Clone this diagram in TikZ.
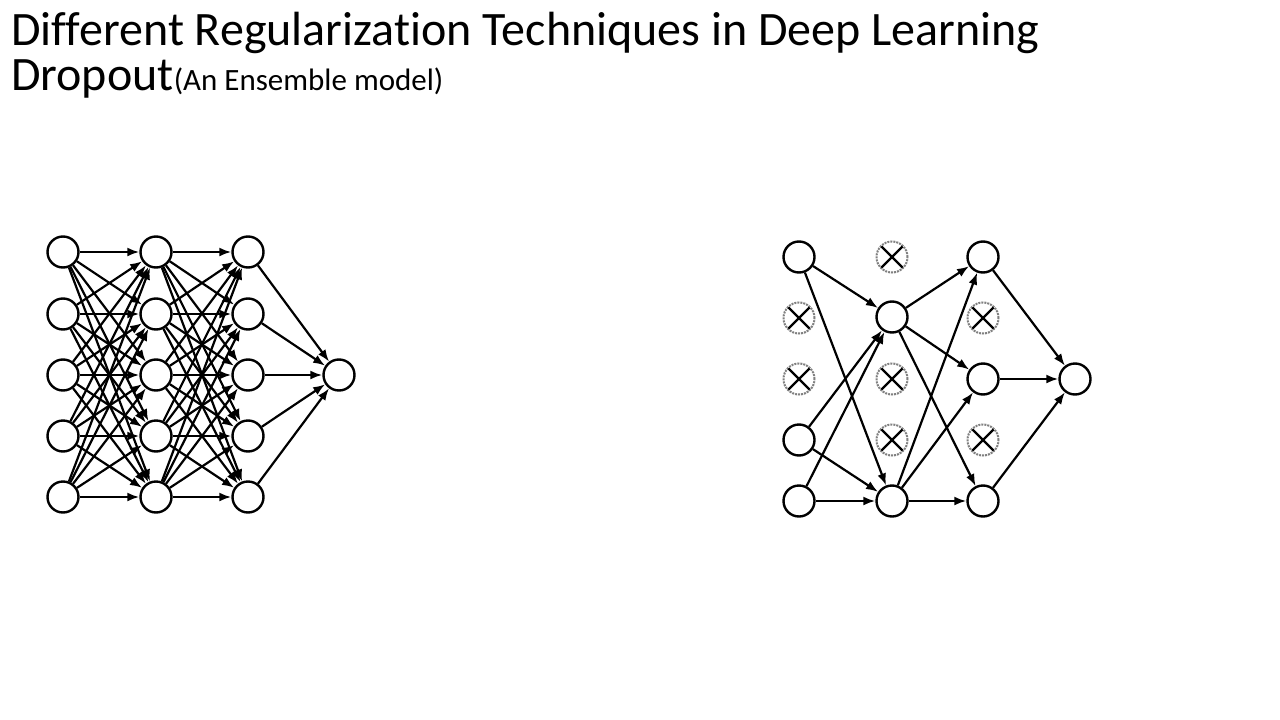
\documentclass[tikz,border=0pt]{standalone}
\usepackage{fontspec}
\setmainfont[Ligatures=NoCommon]{Carlito}
\usetikzlibrary{arrows.meta}
\begin{document}
\begin{tikzpicture}[x=1pt,y=-1pt,
  neuron/.style={circle,draw,line width=2.4pt,minimum size=31pt,inner sep=0pt,fill=white},
  dropped/.style={circle,draw=black!50,densely dotted,line width=2pt,minimum size=31pt,inner sep=0pt},
  xmark/.style={line width=2.4pt,shorten >=1.5pt,shorten <=1.5pt},
  conn/.style={-{Latex[length=12pt,width=9pt]},line width=2.2pt},
  big/.style={font=\fontsize{48}{48}\selectfont}]
\useasboundingbox (0,0) rectangle (1280,720);
\fill[white] (0,0) rectangle (1280,720);
% titles
\node[anchor=base west,inner sep=0pt,big] (t1) at (11,45) {Different Regularization Techniques in Deep Learning};
\node[anchor=base west,inner sep=0pt] (t2) at (11,90) {{\fontsize{48}{48}\selectfont Dropout}{\fontsize{31}{31}\selectfont (An Ensemble model)}};
% left: full network
\foreach \i/\y in {1/252,2/314,3/375,4/436,5/497}{
  \node[neuron] (a\i) at (63,\y) {};
  \node[neuron] (b\i) at (156,\y) {};
  \node[neuron] (c\i) at (248,\y) {};
}
\node[neuron] (ao) at (339,375) {};
\foreach \i in {1,...,5}{
  \foreach \j in {1,...,5}{
    \draw[conn] (a\i) -- (b\j);
    \draw[conn] (b\i) -- (c\j);
  }
  \draw[conn] (c\i) -- (ao);
}
% right: thinned network
\node[neuron] (p1) at (799,257) {};
\node[dropped] (p2) at (799,318) {};
\node[dropped] (p3) at (799,379) {};
\node[neuron] (p4) at (799,440) {};
\node[neuron] (p5) at (799,501) {};
\node[dropped] (q1) at (892,257) {};
\node[neuron] (q2) at (892,317) {};
\node[dropped] (q3) at (892,379) {};
\node[dropped] (q4) at (892,440) {};
\node[neuron] (q5) at (892,501) {};
\node[neuron] (r1) at (983,257) {};
\node[dropped] (r2) at (983,318) {};
\node[neuron] (r3) at (983,379) {};
\node[dropped] (r4) at (983,440) {};
\node[neuron] (r5) at (983,501) {};
\node[neuron] (ro) at (1075,379) {};
\foreach \d in {p2,p3,q1,q3,q4,r2,r4}{
  \draw[xmark] (\d.north east) -- (\d.south west);
  \draw[xmark] (\d.north west) -- (\d.south east);
}
\foreach \s in {p1,p4,p5}{
  \draw[conn] (\s) -- (q2);
  \draw[conn] (\s) -- (q5);
}
\foreach \s in {q2,q5}{
  \foreach \t in {r1,r3,r5}{
    \draw[conn] (\s) -- (\t);
  }
}
\foreach \s in {r1,r3,r5}{
  \draw[conn] (\s) -- (ro);
}
\end{tikzpicture}
\end{document}
